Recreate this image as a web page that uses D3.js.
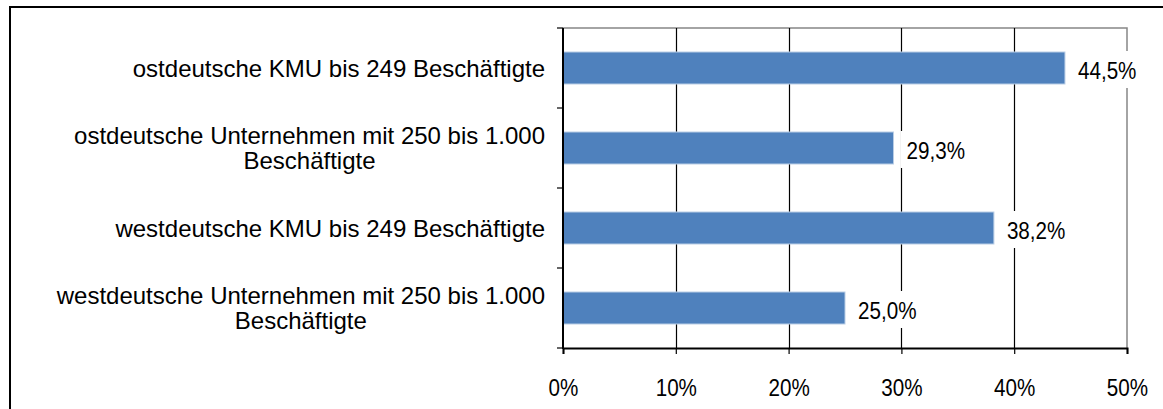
<!DOCTYPE html>
<html lang="de">
<head>
<meta charset="UTF-8">
<title>Beschäftigte Chart</title>
<script src="https://d3js.org/d3.v7.min.js"></script>
<style>
    body { margin: 0; background: #fff; }
    svg { display: block; font-family: "Liberation Sans", Arial, sans-serif; }
</style>
</head>
<body>
<div id="chart"></div>
<script>
// category labels, one entry per line
var categories = [
    ["ostdeutsche KMU bis 249 Beschäftigte"],
    ["ostdeutsche Unternehmen mit 250 bis 1.000", "Beschäftigte"],
    ["westdeutsche KMU bis 249 Beschäftigte"],
    ["westdeutsche Unternehmen mit 250 bis 1.000", "Beschäftigte"]
];
var values = [44.5, 29.3, 38.2, 25.0];
var xTicks = [0, 10, 20, 30, 40, 50];

const width = 1163, height = 409;
const plotL = 563, plotR = 1127, plotT = 28, plotB = 348;
const squeeze = 0.86; // numbers look narrow and tall in the original

const svg = d3.select('#chart').append('svg')
    .attr('width', width)
    .attr('height', height);

// outer frame (top + left only visible)
svg.append('path')
    .attr('d', `M10,${height + 5}V7H${width + 5}`)
    .attr('fill', 'none')
    .attr('stroke', '#000')
    .attr('stroke-width', 2);

const x = d3.scaleLinear().domain([0, 50]).range([plotL, plotR]);
const y = d3.scaleBand().domain(d3.range(categories.length)).range([plotT, plotB]).paddingInner(0.6).paddingOuter(0.3);

// plot border top and right in grey
svg.append('path')
    .attr('d', `M${plotL},${plotT}H${plotR}V${plotB}`)
    .attr('fill', 'none')
    .attr('stroke', '#868686')
    .attr('stroke-width', 1.5);

// gridlines
svg.append('g').selectAll('line')
    .data(xTicks.filter(d => d > 0 && d < 50))
    .enter().append('line')
    .attr('x1', d => Math.round(x(d)) + 0.5)
    .attr('x2', d => Math.round(x(d)) + 0.5)
    .attr('y1', plotT).attr('y2', plotB)
    .attr('stroke', '#000')
    .attr('stroke-width', 1.2);

// bars
svg.append('g').selectAll('rect')
    .data(values)
    .enter().append('rect')
    .attr('x', x(0))
    .attr('y', (d, i) => y(i))
    .attr('width', d => x(d) - x(0))
    .attr('height', y.bandwidth())
    .attr('fill', '#4f81bd')
    .attr('stroke', '#b9cde5')
    .attr('stroke-width', 1);

// value labels with white box
const lab = svg.append('g').selectAll('g')
    .data(values)
    .enter().append('g')
    .attr('transform', (d, i) => `translate(${x(d) + 13},${y(i) + y.bandwidth() / 2})`);
const labBox = lab.append('rect')
    .attr('y', -17).attr('height', 37)
    .attr('fill', '#fff');
const labText = lab.append('text')
    .attr('transform', `scale(${squeeze},1)`)
    .attr('dy', '0.45em')
    .attr('font-size', 24)
    .attr('fill', '#000')
    .text(d => d.toFixed(1).replace('.', ',') + '%');
labText.each(function (d, i) {
    const w = this.getComputedTextLength() * squeeze;
    d3.select(labBox.nodes()[i]).attr('x', -6).attr('width', w + 12);
});

// x axis
const xAxis = svg.append('g')
    .attr('transform', `translate(0,${plotB})`)
    .call(d3.axisBottom(x).tickValues(xTicks).tickSize(6).tickPadding(25).tickFormat(d => d + '%'));
xAxis.attr('font-family', null);
xAxis.select('.domain').attr('stroke', '#000').attr('stroke-width', 2);
xAxis.selectAll('.tick line').attr('stroke', '#000').attr('stroke-width', 1.2);
xAxis.selectAll('.tick text')
    .attr('font-size', 24)
    .attr('fill', '#000')
    .attr('transform', `scale(${squeeze},1)`);

// y axis line and ticks at band boundaries
const step = (plotB - plotT) / categories.length;
svg.append('line')
    .attr('x1', plotL).attr('x2', plotL)
    .attr('y1', plotT).attr('y2', plotB + 1)
    .attr('stroke', '#000').attr('stroke-width', 2);
svg.append('g').selectAll('line')
    .data(d3.range(categories.length + 1))
    .enter().append('line')
    .attr('x1', plotL - 6).attr('x2', plotL)
    .attr('y1', i => plotT + i * step).attr('y2', i => plotT + i * step)
    .attr('stroke', '#000').attr('stroke-width', 1.2);

// category labels, right aligned block, lines centred within it
const labelRight = 545;
const cat = svg.append('g').selectAll('text')
    .data(categories)
    .enter().append('text')
    .attr('font-size', 24)
    .attr('fill', '#000');
cat.each(function (lines, i) {
    const t = d3.select(this);
    const cy = y(i) + y.bandwidth() / 2;
    const lh = 25;
    lines.forEach((s, j) => {
        t.append('tspan')
            .attr('y', cy + (j - (lines.length - 1) / 2) * lh)
            .attr('dy', '0.36em')
            .text(s);
    });
    const spans = t.selectAll('tspan');
    let maxW = 0;
    spans.each(function () { maxW = Math.max(maxW, this.getComputedTextLength()); });
    spans.attr('x', labelRight - maxW / 2).attr('text-anchor', 'middle');
});
</script>
</body>
</html>
